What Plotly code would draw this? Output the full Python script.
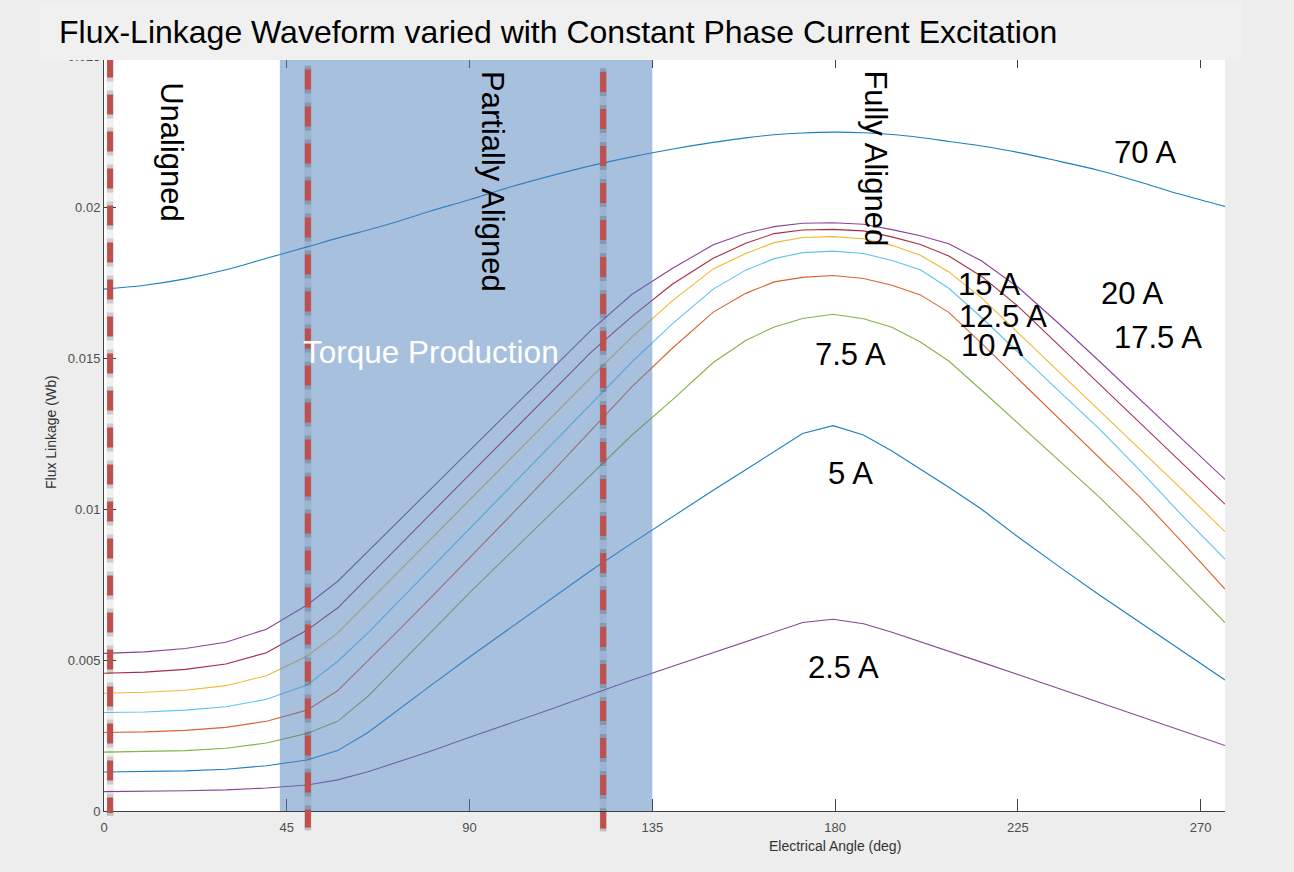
import plotly.graph_objects as go

# Electrical angle grid (deg)
angle = [0, 10, 20, 30, 40, 50, 57.5, 65, 72.5, 80, 90, 100, 110, 120, 130, 140,
         150, 158, 165, 172, 179.5, 187, 194, 201, 208, 216, 225, 235, 245, 255, 265, 276]

# Flux linkage (Wb) for each constant phase current
flux_2p5 = [0.00064, 0.00065, 0.00067, 0.00070, 0.00076, 0.00086, 0.00103, 0.00130,
            0.00162, 0.00196, 0.00244, 0.00290, 0.00337, 0.00386, 0.00434, 0.00479,
            0.00524, 0.00561, 0.00593, 0.00624, 0.00635, 0.00620, 0.00592, 0.00561,
            0.00530, 0.00493, 0.00452, 0.00406, 0.00360, 0.00314, 0.00268, 0.00217]
flux_5 = [0.00129, 0.00130, 0.00133, 0.00138, 0.00150, 0.00169, 0.00200, 0.00260,
          0.00336, 0.00411, 0.00510, 0.00605, 0.00700, 0.00797, 0.00887, 0.00975,
          0.01062, 0.01130, 0.01190, 0.01250, 0.01276, 0.01245, 0.01192, 0.01133,
          0.01072, 0.01000, 0.00908, 0.00811, 0.00716, 0.00625, 0.00534, 0.00434]
flux_7p5 = [0.00195, 0.00197, 0.00200, 0.00208, 0.00225, 0.00257, 0.00297, 0.00380,
            0.00483, 0.00587, 0.00722, 0.00854, 0.00985, 0.01115, 0.01245, 0.01362,
            0.01485, 0.01558, 0.01603, 0.01631, 0.01645, 0.01630, 0.01602, 0.01553,
            0.01490, 0.01394, 0.01285, 0.01164, 0.01040, 0.00909, 0.00773, 0.00624]
flux_10 = [0.00260, 0.00262, 0.00267, 0.00277, 0.00297, 0.00334, 0.00398, 0.00497,
           0.00598, 0.00700, 0.00837, 0.00977, 0.01118, 0.01260, 0.01405, 0.01533,
           0.01652, 0.01714, 0.01752, 0.01767, 0.01773, 0.01763, 0.01741, 0.01709,
           0.01651, 0.01549, 0.01432, 0.01301, 0.01171, 0.01040, 0.00897, 0.00735]
flux_12p5 = [0.00326, 0.00328, 0.00334, 0.00345, 0.00370, 0.00417, 0.00495, 0.00590,
             0.00693, 0.00797, 0.00935, 0.01073, 0.01210, 0.01348, 0.01487, 0.01614,
             0.01728, 0.01791, 0.01829, 0.01849, 0.01854, 0.01846, 0.01823, 0.01792,
             0.01731, 0.01635, 0.01519, 0.01392, 0.01266, 0.01129, 0.00985, 0.00834]
flux_15 = [0.00390, 0.00393, 0.00400, 0.00415, 0.00448, 0.00513, 0.00589, 0.00691,
           0.00793, 0.00894, 0.01030, 0.01166, 0.01301, 0.01437, 0.01570, 0.01690,
           0.01795, 0.01846, 0.01882, 0.01899, 0.01902, 0.01895, 0.01873, 0.01840,
           0.01785, 0.01700, 0.01584, 0.01456, 0.01327, 0.01199, 0.01070, 0.00925]
flux_17p5 = [0.00456, 0.00460, 0.00469, 0.00487, 0.00524, 0.00599, 0.00672, 0.00775,
             0.00877, 0.00978, 0.01114, 0.01250, 0.01385, 0.01520, 0.01638, 0.01745,
             0.01830, 0.01880, 0.01912, 0.01924, 0.01926, 0.01921, 0.01901, 0.01876,
             0.01838, 0.01771, 0.01672, 0.01543, 0.01415, 0.01286, 0.01158, 0.01016]
flux_20 = [0.00522, 0.00527, 0.00538, 0.00559, 0.00602, 0.00682, 0.00760, 0.00860,
           0.00960, 0.01060, 0.01193, 0.01326, 0.01459, 0.01593, 0.01711, 0.01797,
           0.01875, 0.01913, 0.01935, 0.01946, 0.01948, 0.01943, 0.01925, 0.01905,
           0.01878, 0.01822, 0.01735, 0.01615, 0.01490, 0.01363, 0.01237, 0.01098]
flux_70 = [0.01728, 0.01741, 0.01762, 0.01792, 0.01830, 0.01868, 0.01897, 0.01924,
           0.01953, 0.01985, 0.02024, 0.02066, 0.02103, 0.02137, 0.02166, 0.02192,
           0.02214, 0.02229, 0.02239, 0.02245, 0.02248, 0.02246, 0.02240, 0.02230,
           0.02217, 0.02202, 0.02181, 0.02152, 0.02121, 0.02083, 0.02042, 0.02002]

currents = ["2.5 A", "5 A", "7.5 A", "10 A", "12.5 A", "15 A", "17.5 A", "20 A", "70 A"]
series = [flux_2p5, flux_5, flux_7p5, flux_10, flux_12p5, flux_15, flux_17p5, flux_20, flux_70]
colors = ["#7e2f8e", "#0072bd", "#77ac30", "#d95319", "#4dbeee", "#edb120",
          "#a2142f", "#7e2f8e", "#0072bd"]

# Current labels placed beside their curves (angle, flux)
label_pos = {
    "70 A": (256.3, 0.02179), "20 A": (253.2, 0.01714), "17.5 A": (259.5, 0.01568),
    "15 A": (217.9, 0.01745), "12.5 A": (221.3, 0.01639), "10 A": (218.7, 0.01540),
    "7.5 A": (183.7, 0.01513), "5 A": (183.7, 0.01119), "2.5 A": (182.1, 0.00475),
}

# Region boundaries (deg)
boundaries = [1.5, 50.2, 122.9]
torque_band = (43.3, 135)

X_MAX = 276
Y_MAX = 0.025
FONT = "Arial, Liberation Sans, sans-serif"

# Plot area in pixels
L, R, T, B = 104, 69, 56, 61
W, H = 1294, 872
PW, PH = W - L - R, H - T - B


def px_to_paper_x(px):
    return (px - L) / PW


def px_to_paper_y(py):
    return (H - B - py) / PH


fig = go.Figure()
for name, ys, c in zip(currents, series, colors):
    fig.add_trace(go.Scatter(x=angle, y=ys, mode="lines", name=name,
                             line=dict(color=c, width=1.1),
                             line_shape="spline" if name == "70 A" else "linear",
                             opacity=0.9, showlegend=False, hoverinfo="skip"))

shapes = []
# Torque production band
shapes.append(dict(type="rect", xref="x", yref="y", x0=torque_band[0], x1=torque_band[1],
                   y0=0, y1=Y_MAX, fillcolor="#4f81bd", opacity=0.5,
                   line=dict(width=0), layer="above"))

# Dashed boundary markers with a soft shadow
tops = [57.5, 69.5, 72.0]
bottoms = [813, 827.5, 828.5]
for xb, ytop, ybot in zip(boundaries, tops, bottoms):
    shapes.append(dict(type="line", xref="x", yref="paper", x0=xb, x1=xb,
                       y0=px_to_paper_y(ytop - 2), y1=px_to_paper_y(ybot + 2),
                       line=dict(color="rgba(0,0,0,0.06)", width=7), layer="above"))
    shapes.append(dict(type="line", xref="x", yref="paper", x0=xb, x1=xb,
                       y0=px_to_paper_y(ytop - 4), y1=px_to_paper_y(ybot + 3),
                       line=dict(color="rgba(0,0,0,0.15)", width=6.5,
                                 dash="28px,9px"), layer="above"))
    shapes.append(dict(type="line", xref="x", yref="paper", x0=xb, x1=xb,
                       y0=px_to_paper_y(ytop), y1=px_to_paper_y(ybot),
                       line=dict(color="#c0504d", width=6,
                                 dash="20px,17px"), layer="above"))

# Title banner
shapes.append(dict(type="rect", xref="paper", yref="paper",
                   x0=px_to_paper_x(40), x1=px_to_paper_x(1242),
                   y0=px_to_paper_y(60), y1=px_to_paper_y(3),
                   fillcolor="#f0f0f0", line=dict(width=0), layer="above"))

annotations = []
for name in currents:
    ax, ay = label_pos[name]
    annotations.append(dict(x=ax, y=ay, xref="x", yref="y", text=name, showarrow=False,
                            font=dict(family=FONT, size=31, color="#000000"),
                            xanchor="center", yanchor="middle"))

annotations += [
    dict(x=16.7, y=0.02182, xref="x", yref="y", text="Unaligned", textangle=90,
         showarrow=False, xanchor="center", yanchor="middle",
         font=dict(family=FONT, size=31, color="#000000")),
    dict(x=95.5, y=0.02083, xref="x", yref="y", text="Partially Aligned", textangle=90,
         showarrow=False, xanchor="center", yanchor="middle",
         font=dict(family=FONT, size=31, color="#000000")),
    dict(x=190.0, y=0.02162, xref="x", yref="y", text="Fully Aligned", textangle=90,
         showarrow=False, xanchor="center", yanchor="middle",
         font=dict(family=FONT, size=31, color="#000000")),
    dict(x=80.5, y=0.0152, xref="x", yref="y", text="Torque Production",
         showarrow=False, xanchor="center", yanchor="middle",
         font=dict(family=FONT, size=31.5, color="#ffffff")),
    dict(x=px_to_paper_x(57), y=px_to_paper_y(32), xref="paper", yref="paper",
         text="Flux-Linkage Waveform varied with Constant Phase Current Excitation",
         showarrow=False, xanchor="left", yanchor="middle",
         font=dict(family=FONT, size=32, color="#000000")),
    dict(x=180, y=px_to_paper_y(846), xref="x", yref="paper",
         text="Electrical Angle (deg)", showarrow=False,
         xanchor="center", yanchor="middle",
         font=dict(family=FONT, size=14, color="#333333")),
    dict(x=px_to_paper_x(51), y=px_to_paper_y(432), xref="paper", yref="paper",
         text="Flux Linkage (Wb)", textangle=-90, showarrow=False,
         xanchor="center", yanchor="middle",
         font=dict(family=FONT, size=14, color="#333333")),
]

fig.update_layout(
    width=W, height=H,
    margin=dict(l=L, r=R, t=T, b=B, pad=0),
    paper_bgcolor="#ededed",
    plot_bgcolor="#ffffff",
    shapes=shapes,
    annotations=annotations,
    showlegend=False,
    xaxis=dict(range=[0, X_MAX], tickvals=[0, 45, 90, 135, 180, 225, 270],
               ticktext=["0", "45", "90", "135", "180", "225", "270"],
               ticks="inside", ticklen=12, tickcolor="#404040", tickwidth=1,
               ticklabelstandoff=4,
               showline=True, linecolor="#404040", linewidth=1, mirror="ticks",
               showgrid=False, zeroline=False,
               tickfont=dict(family=FONT, size=13, color="#4d4d4d")),
    yaxis=dict(range=[0, Y_MAX], tickvals=[0, 0.005, 0.01, 0.015, 0.02, 0.025],
               ticktext=["0", "0.005", "0.01", "0.015", "0.02", "0.025"],
               ticks="inside", ticklen=12, tickcolor="#404040", tickwidth=1,
               showline=True, linecolor="#404040", linewidth=1,
               showgrid=False, zeroline=False,
               tickfont=dict(family=FONT, size=13, color="#4d4d4d")),
)

fig.write_html("out.html")
